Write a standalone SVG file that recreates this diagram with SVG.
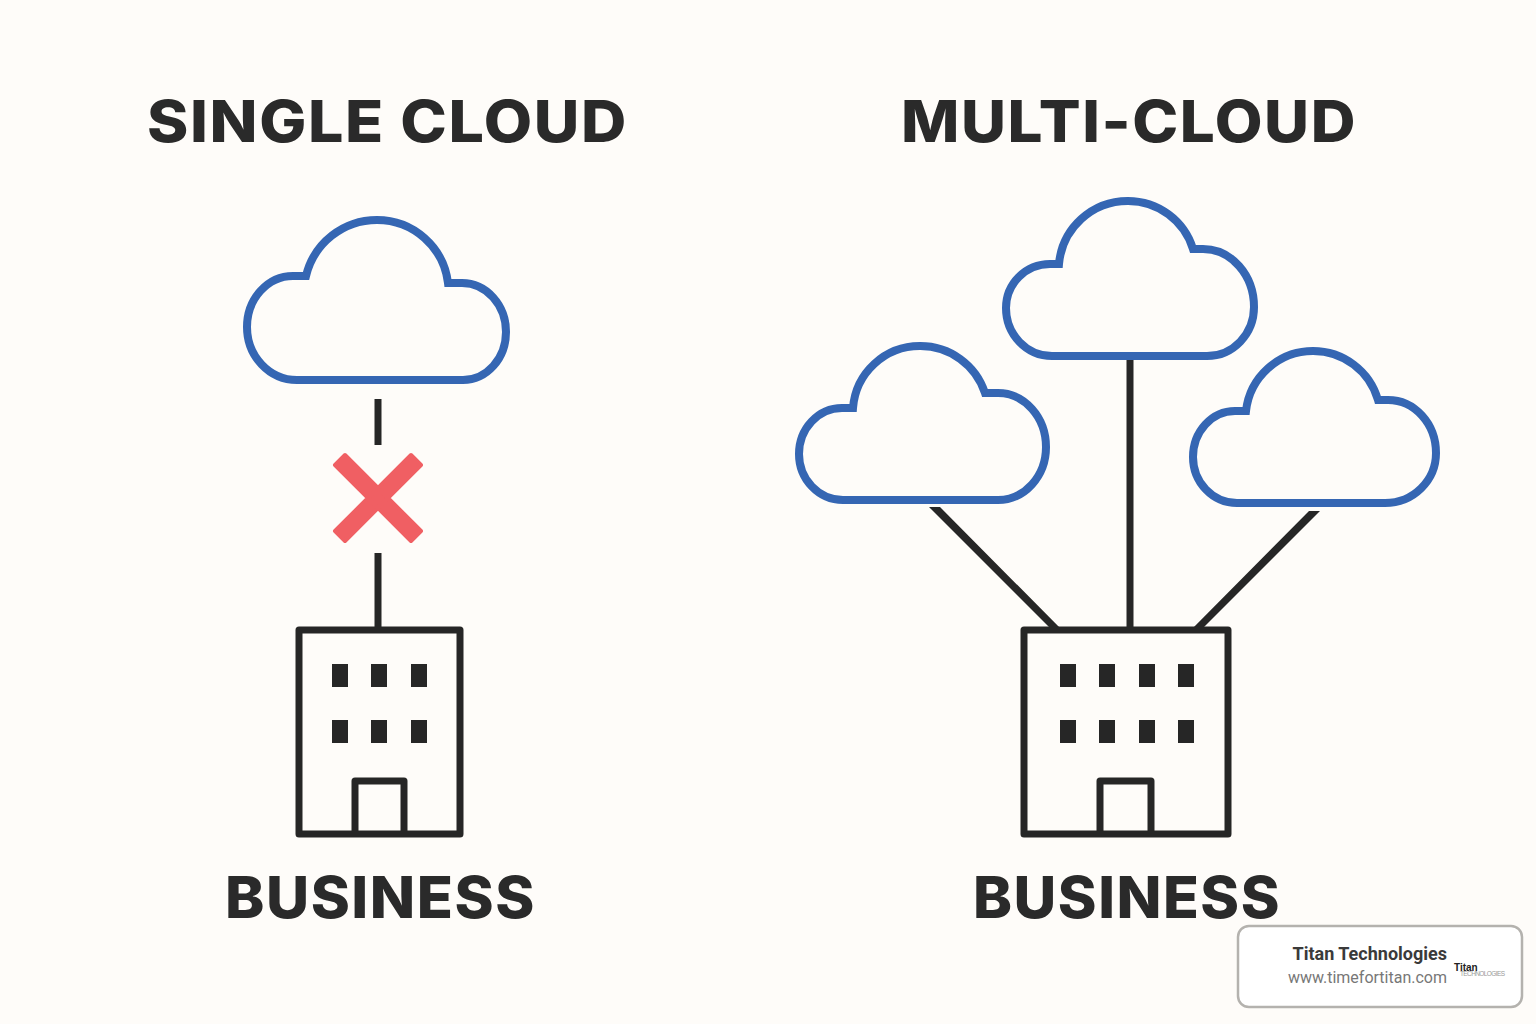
<svg xmlns="http://www.w3.org/2000/svg" width="1536" height="1024" viewBox="0 0 1536 1024">
<defs>
<style>
.t{font-family:"Inter","Liberation Sans",sans-serif;font-weight:800;fill:#2a2a2a;font-size:58px;letter-spacing:1.5px}
.c{fill:none;stroke:#3566b3;stroke-width:8;stroke-linejoin:miter}
.k{fill:none;stroke:#262626;stroke-width:7;stroke-linejoin:round}
.l{stroke:#262626;stroke-width:7;fill:none}
.w{fill:#262626}
</style>
</defs>
<rect width="1536" height="1024" fill="#fefcf9"/>
<text class="t" x="147" y="142" textLength="481" lengthAdjust="spacingAndGlyphs">SINGLE CLOUD</text>
<text class="t" x="901" y="142" textLength="456" lengthAdjust="spacingAndGlyphs">MULTI-CLOUD</text>
<text class="t" x="225" y="918" textLength="311" lengthAdjust="spacingAndGlyphs">BUSINESS</text>
<text class="t" x="973" y="918" textLength="308" lengthAdjust="spacingAndGlyphs">BUSINESS</text>
<g id="connectors">
<path class="l" d="M378 399V445M378 553V630M1130 358V630"/>
<path class="w" d="M929 507H940L1062 630H1052ZM1309 511H1320L1201 630H1191Z"/>
</g>
<g id="cloud-single"><path class="c" d="M297 380H463A43 48 0 0 0 506 332A44 49 0 0 0 462 283H448A71.500 71.500 0 0 0 377 220A73 73 0 0 0 306 276H293A46 51 0 0 0 247 327A50 53 0 0 0 297 380Z"/></g>
<g id="cross"><path d="M335 465L345 455L421 531L411 541ZM411 455L421 465L345 541L335 531Z" fill="#f05f63" stroke="#f05f63" stroke-width="4" stroke-linejoin="round"/></g>
<g id="cloud-a"><path class="c" d="M843 500H998A48 53 0 0 0 1046 447A48 54 0 0 0 998 393H985A68 68 0 0 0 920 346A67 67 0 0 0 853 408H842A43 46 0 0 0 799 454A44 46 0 0 0 843 500Z"/></g>
<g id="cloud-b"><path class="c" d="M1052 356H1207A47 49 0 0 0 1254 307A51 58 0 0 0 1203 249H1193A68 68 0 0 0 1128 201A69 69 0 0 0 1059 264H1050A44 44 0 0 0 1006 308A46 48 0 0 0 1052 356Z"/></g>
<g id="cloud-c"><path class="c" d="M1237 503H1385A51 50 0 0 0 1436 453A48 53 0 0 0 1388 400H1378A67.500 67.500 0 0 0 1313 351A67.500 67.500 0 0 0 1246 411H1235A42 46 0 0 0 1193 457A44 46 0 0 0 1237 503Z"/></g>
<g id="building-single">
<rect class="k" x="299" y="630" width="161" height="204"/>
<path class="k" d="M355 834V781H404V834"/>
<g class="w"><rect x="332" y="664" width="16" height="23"/><rect x="371" y="664" width="16" height="23"/><rect x="411" y="664" width="16" height="23"/><rect x="332" y="720" width="16" height="23"/><rect x="371" y="720" width="16" height="23"/><rect x="411" y="720" width="16" height="23"/></g>
</g>
<g id="building-multi">
<rect class="k" x="1024" y="630" width="204" height="204"/>
<path class="k" d="M1100 834V781H1151V834"/>
<g class="w"><rect x="1060" y="664" width="16" height="23"/><rect x="1099" y="664" width="16" height="23"/><rect x="1139" y="664" width="16" height="23"/><rect x="1178" y="664" width="16" height="23"/><rect x="1060" y="720" width="16" height="23"/><rect x="1099" y="720" width="16" height="23"/><rect x="1139" y="720" width="16" height="23"/><rect x="1178" y="720" width="16" height="23"/></g>
</g>
<g id="badge">
<rect x="1238" y="926" width="284" height="81" rx="11" fill="#fff" stroke="#b4b2ae" stroke-width="2.5"/>
<text x="1447" y="960" text-anchor="end" font-family="Roboto,'Liberation Sans',sans-serif" font-weight="700" font-size="18" fill="#3a3a3a">Titan Technologies</text>
<text x="1447" y="983" text-anchor="end" font-family="Roboto,'Liberation Sans',sans-serif" font-size="16" fill="#777">www.timefortitan.com</text>
<text x="1454" y="971" font-family="'Liberation Sans',sans-serif" font-weight="700" font-size="10" fill="#222">Titan</text>
<text x="1460" y="976" font-family="'Liberation Sans',sans-serif" font-size="6.5" fill="#999" textLength="45">TECHNOLOGIES</text>
</g>
</svg>
